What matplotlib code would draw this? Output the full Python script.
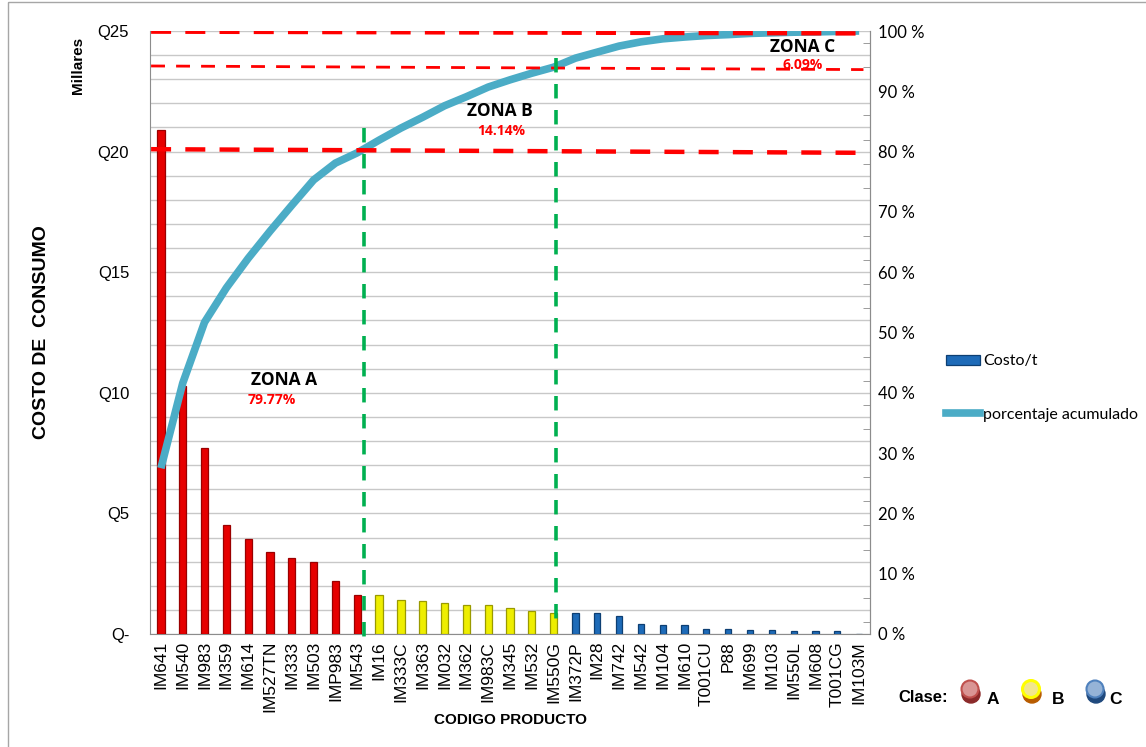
import matplotlib
matplotlib.use("Agg")
import matplotlib.pyplot as plt
import numpy as np
from matplotlib.patches import Patch, Ellipse, Rectangle
from matplotlib.lines import Line2D
from matplotlib.ticker import FixedLocator, MultipleLocator

# ---------------- data ----------------
categories = ["IM641", "IM540", "IM983", "IM359", "IM614", "IM527TN", "IM333", "IM503",
              "IMP983", "IM543", "IM16", "IM333C", "IM363", "IM032", "IM362", "IM983C",
              "IM345", "IM532", "IM550G", "IM372P", "IM28", "IM742", "IM542", "IM104",
              "IM610", "T001CU", "P88", "IM699", "IM103", "IM550L", "IM608", "T001CG",
              "IM103M"]
costo_millares = [20.9, 10.3, 7.7, 4.52, 3.94, 3.40, 3.15, 2.98, 2.21, 1.62,
                  1.62, 1.41, 1.37, 1.30, 1.20, 1.20, 1.09, 0.95, 0.86,
                  0.86, 0.86, 0.75, 0.41, 0.37, 0.37, 0.21, 0.21, 0.17, 0.17,
                  0.14, 0.14, 0.11, 0.02]
clase = ["A", "A", "A", "A", "A", "A", "A", "A", "A", "A",
         "B", "B", "B", "B", "B", "B", "B", "B", "B",
         "C", "C", "C", "C", "C", "C", "C", "C", "C", "C", "C", "C", "C", "C"]
porcentaje_acumulado = [27.5, 41.6, 51.7, 57.4, 62.3, 66.8, 71.1, 75.3, 78.1, 79.8,
                        81.9, 83.9, 85.7, 87.6, 89.1, 90.7, 91.9, 93.0, 94.0,
                        95.5, 96.5, 97.5, 98.2, 98.7, 99.0, 99.25, 99.4, 99.6, 99.7,
                        99.8, 99.85, 99.93, 100.0]
y_ticks = [0, 5, 10, 15, 20, 25]
y_ticklabels = ["Q-", "Q5", "Q10", "Q15", "Q20", "Q25"]
pct_ticks = [0, 10, 20, 30, 40, 50, 60, 70, 80, 90, 100]
pct_ticklabels = ["0 %", "10 %", "20 %", "30 %", "40 %", "50 %", "60 %", "70 %", "80 %", "90 %", "100 %"]
zonas = ["ZONA A", "ZONA B", "ZONA C"]
zonas_pct = ["79.77%", "14.14%", "6.09%"]

# ---------------- styles ----------------
face = {"A": "#E60000", "B": "#EEEE00", "C": "#1E6BB8"}
edge = {"A": "#9A0000", "B": "#9A9A00", "C": "#0D3F73"}
width = {"A": 0.33, "B": 0.33, "C": 0.28}
line_color = "#4BACC6"
WIDTH_PX, HEIGHT_PX = 1146, 747

fig = plt.figure(figsize=(WIDTH_PX / 100, HEIGHT_PX / 100), dpi=100)
L, R, T, B = 150, 870, 31, 634
ax = fig.add_axes([L / WIDTH_PX, 1 - B / HEIGHT_PX, (R - L) / WIDTH_PX, (B - T) / HEIGHT_PX])

x = np.arange(len(categories))
for xi, v, c in zip(x, costo_millares, clase):
    ax.bar(xi, v, width=width[c], color=face[c], edgecolor=edge[c], linewidth=0.9, zorder=3)

ax.set_xlim(-0.5, len(categories) - 0.5)
ax.set_ylim(0, 25)
ax.set_yticks(y_ticks)
ax.set_yticklabels(y_ticklabels, fontsize=12, family="Liberation Sans")
ax.yaxis.set_minor_locator(MultipleLocator(1))
ax.grid(axis="y", which="both", color="#C8C8C8", linewidth=1.0, zorder=0)
ax.tick_params(axis="y", which="both", length=0, pad=15)
ax.set_xticks(x)
ax.set_xticklabels(categories, rotation=90, fontsize=12.5, family="Liberation Sans")
ax.tick_params(axis="x", length=0, pad=5)
for s in ["left", "bottom", "right"]:
    ax.spines[s].set_color("#8C8C8C")
ax.spines["top"].set_visible(False)

ax2 = ax.twinx()
ax2.set_ylim(0, 100)
ax2.plot(x, porcentaje_acumulado, color=line_color, linewidth=5.5, solid_capstyle="butt",
         solid_joinstyle="round", zorder=4)
ax2.set_yticks(pct_ticks)
ax2.set_yticklabels(pct_ticklabels, fontsize=12, family="Lato")
ax2.yaxis.set_minor_locator(FixedLocator(np.arange(2, 100, 4)))
ax2.tick_params(axis="y", which="major", length=0, pad=6)
ax2.tick_params(axis="y", which="minor", direction="in", length=5, color="#8C8C8C")
ax2.spines["right"].set_color("#8C8C8C")
ax2.spines["left"].set_visible(False)
ax2.spines["top"].set_visible(False)
ax2.spines["bottom"].set_visible(False)

# zone limit lines (drawn shapes)
xl, xr = -0.45, len(categories) - 0.8
ax2.plot([xl, xr], [99.9, 99.6], color="#FF0000", lw=3.2, dashes=(4.5, 3.2), zorder=5)
ax2.plot([xl, xr], [94.2, 93.6], color="#FF0000", lw=2.0, dashes=(5, 4), zorder=5)
ax2.plot([xl, xr], [80.4, 79.8], color="#FF0000", lw=3.2, dashes=(4.5, 3.2), zorder=5)
ax2.plot([9.3, 9.3], [83.9, -2.3], color="#00B050", lw=2.6, dashes=(4, 3.2), zorder=5, clip_on=False)
ax2.plot([18.1, 18.1], [95.5, 1.5], color="#00B050", lw=2.6, dashes=(4, 3.2), zorder=5, clip_on=False)

# zone annotations
zone_name_pos = [(5.65, 42.1), (15.55, 86.7), (29.4, 97.4)]
zone_pct_pos = [(5.1, 38.8), (15.6, 83.4), (29.4, 94.3)]
for name, pct, (nx, ny), (px, py) in zip(zonas, zonas_pct, zone_name_pos, zone_pct_pos):
    ax2.text(nx, ny, name, ha="center", va="center", fontsize=12.5, fontweight="bold",
             fontstyle="normal", family="Open Sans", color="black", zorder=6)
    ax2.text(px, py, pct, ha="center", va="center", fontsize=10, fontweight="bold",
             fontstyle="normal", family="Open Sans", color="#FF0000", zorder=6)

# axis titles
fig.text(42 / WIDTH_PX, 1 - 332 / HEIGHT_PX, "COSTO DE  CONSUMO", rotation=90, ha="center",
         va="center", fontsize=14, fontweight="bold", family="Liberation Sans")
fig.text(78 / WIDTH_PX, 1 - 65 / HEIGHT_PX, "Millares", rotation=90, ha="center",
         va="center", fontsize=11, fontweight="bold", family="Liberation Sans")
fig.text(510 / WIDTH_PX, 1 - 720 / HEIGHT_PX, "CODIGO PRODUCTO", ha="center",
         va="center", fontsize=11, fontweight="bold", family="Liberation Sans")

# series legend
handles = [Patch(facecolor="#1E6BB8", edgecolor="#0D3F73", linewidth=0.9),
           Line2D([0], [0], color=line_color, lw=5.5)]
fig.legend(handles, ["Costo/t", "porcentaje acumulado"], loc="upper left",
           bbox_to_anchor=(940 / WIDTH_PX, 1 - 348 / HEIGHT_PX), frameon=False,
           prop={"family": "Lato", "size": 11.5}, handlelength=2.1, handleheight=0.55,
           handletextpad=0.2, labelspacing=2.45, borderaxespad=0)

# overlay for frame and class legend
ov = fig.add_axes([0, 0, 1, 1], zorder=-1)
ov.set_xlim(0, WIDTH_PX)
ov.set_ylim(HEIGHT_PX, 0)
ov.axis("off")
ov.add_patch(Rectangle((8, 2), WIDTH_PX, HEIGHT_PX, fill=False, edgecolor="#A6A6A6", lw=1.0))

ov2 = fig.add_axes([0, 0, 1, 1], zorder=10)
ov2.set_xlim(0, WIDTH_PX)
ov2.set_ylim(HEIGHT_PX, 0)
ov2.axis("off")
ov2.patch.set_alpha(0)
ov2.text(898, 698, "Clase:", ha="left", va="center", fontsize=12, fontweight="bold",
         family="Liberation Sans")
legend_cls = [("A", 970, "#8B2A2A", "#D99594", "#C0504D", 993),
              ("B", 1031, "#B85C00", "#F2E68C", "#FFFF00", 1058),
              ("C", 1095, "#1F497D", "#95B3D7", "#4F81BD", 1116)]
for lab, cx, shadow, fill, ec, tx in legend_cls:
    ov2.add_patch(Ellipse((cx + 1, 694), 18, 18, facecolor=shadow, edgecolor=shadow))
    ov2.add_patch(Ellipse((cx, 689), 17, 17, facecolor=fill, edgecolor=ec, lw=1.5 if lab != "B" else 2.2))
    ov2.text(tx, 699, lab, ha="center", va="center", fontsize=12.5, fontweight="bold",
             family="Liberation Sans")

fig.savefig("out.png", dpi=100)
